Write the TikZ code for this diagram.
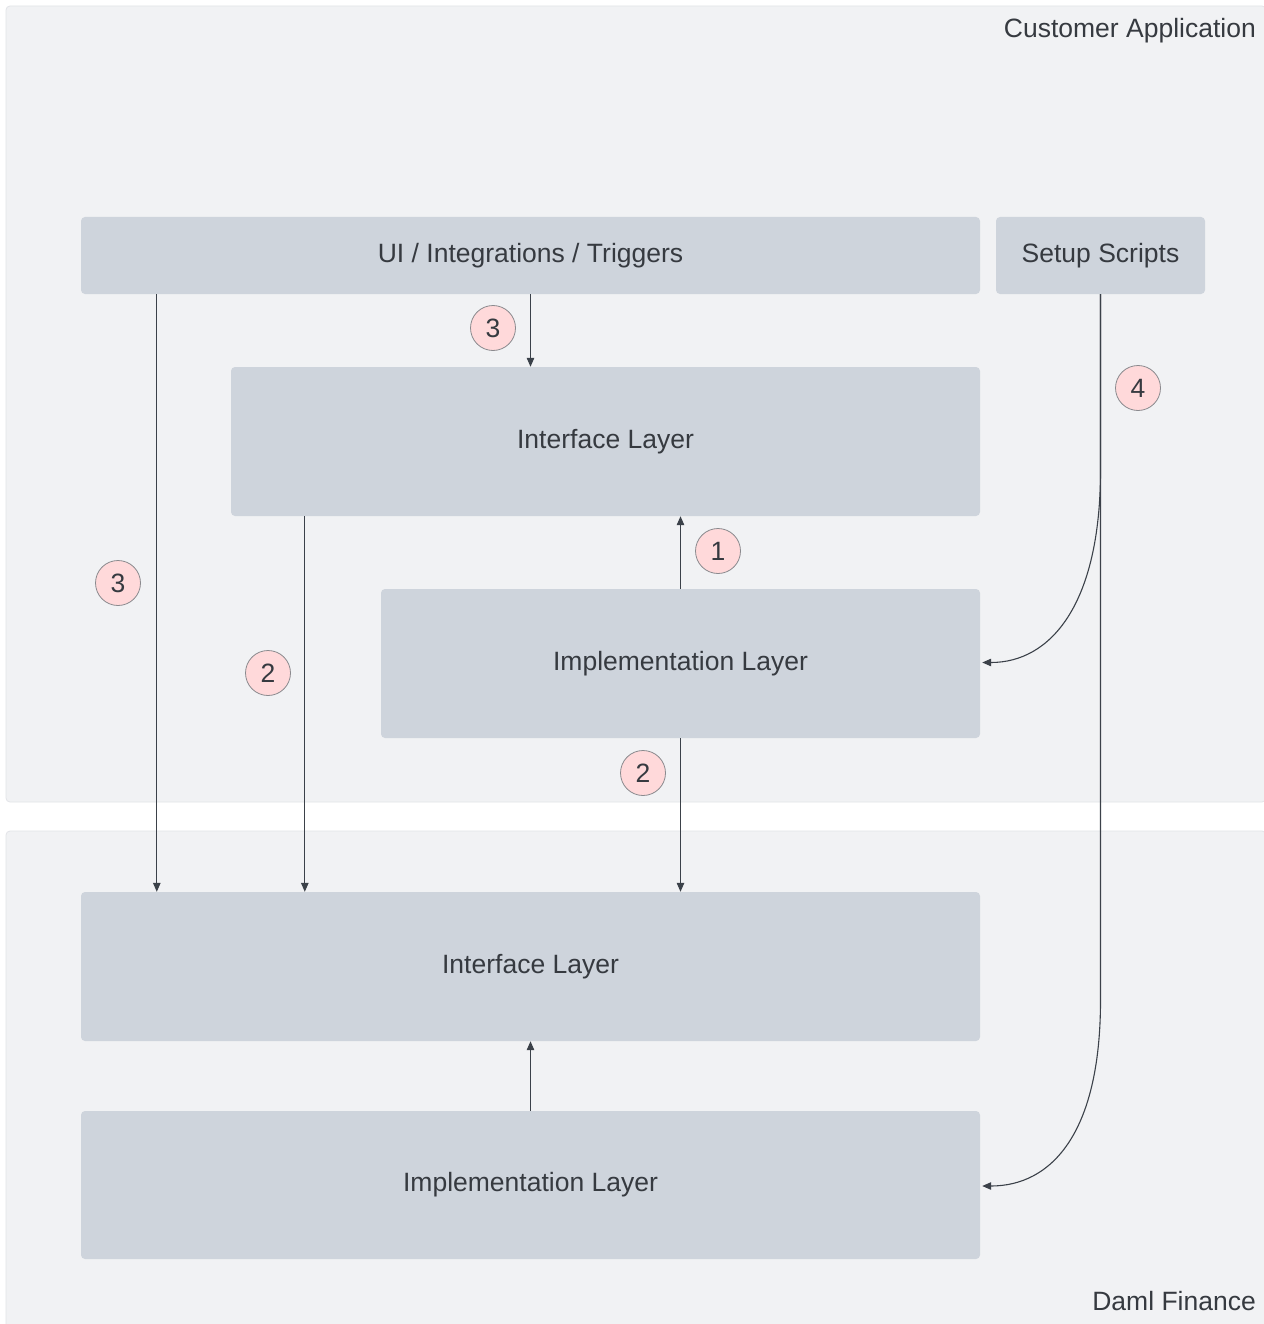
\documentclass[tikz,border=0pt]{standalone}
\usepackage{fontspec}
\setmainfont{Liberation Sans}
\usetikzlibrary{arrows.meta,calc}
\definecolor{contfill}{HTML}{F1F2F4}
\definecolor{contline}{HTML}{E2E4E8}
\definecolor{boxfill}{HTML}{CED4DC}
\definecolor{txt}{HTML}{363A40}
\definecolor{arrcol}{HTML}{3B4149}
\definecolor{badgefill}{HTML}{FFD9DA}
\definecolor{badgeline}{HTML}{8A8A8E}
\tikzset{
  container/.style={draw=contline, line width=0.8pt, fill=contfill, rounded corners=4pt},
  layerbox/.style={rectangle, fill=boxfill, rounded corners=4pt, inner sep=0pt, text=txt,
    font=\fontsize{26.5}{32}\selectfont},
  badge/.style={circle, draw=badgeline, line width=0.8pt, fill=badgefill, minimum size=45pt,
    inner sep=0pt, text=txt, font=\fontsize{26.5}{32}\selectfont},
  title/.style={text=txt, font=\fontsize{26.5}{32}\selectfont, inner sep=0pt},
  arr/.style={draw=arrcol, line width=1.1pt, -{Triangle[length=9pt,width=7.5pt]}},
}
\begin{document}
\begin{tikzpicture}[x=1pt,y=-1pt]
\useasboundingbox[fill=white] (0,0) rectangle (1263,1324);
% containers
\draw[container] (6,6) rectangle (1266,802);
\draw[container] (6,831) rectangle (1266,1330);
\node[title, anchor=base east] (tca) at (1256,37.5) {Customer Application};
\node[title, anchor=base east] (tdf) at (1256,1310.5) {Daml Finance};
% boxes
\node[layerbox, minimum width=899pt, minimum height=77pt] (ui) at (530.5,255.5) {UI / Integrations / Triggers};
\node[layerbox, minimum width=209pt, minimum height=77pt] (setup) at (1100.5,255.5) {Setup Scripts};
\node[layerbox, minimum width=749pt, minimum height=149pt] (if1) at (605.5,441.5) {Interface Layer};
\node[layerbox, minimum width=599pt, minimum height=149pt] (im1) at (680.5,663.5) {Implementation Layer};
\node[layerbox, minimum width=899pt, minimum height=149pt] (if2) at (530.5,966.5) {Interface Layer};
\node[layerbox, minimum width=899pt, minimum height=148pt] (im2) at (530.5,1185) {Implementation Layer};
% connectors
\draw[arr] (ui.south) -- (ui.south |- if1.north);
\coordinate (uiL) at ($(ui.south west)+(76,0)$);
\draw[arr] (uiL) -- (uiL |- if2.north);
\coordinate (if1L) at ($(if1.south west)+(74,0)$);
\draw[arr] (if1L) -- (if1L |- if2.north);
\draw[arr] (im1.north) -- (im1.north |- if1.south);
\draw[arr] (im1.south) -- (im1.south |- if2.north);
\draw[arr] (im2.north) -- (im2.north |- if2.south);
\coordinate (s1) at ($(setup.south)+(0,176)$);
\coordinate (s2) at ($(setup.south)+(0,706)$);
\draw[arr] (setup.south) -- (s1) .. controls ($(s1)+(0,135)$) and ($(im1.east)+(70,-1)$) .. ($(im1.east)+(2,-1)$);
\draw[arr] (setup.south) -- (s2) .. controls ($(s2)+(0,135)$) and ($(im2.east)+(70,1)$) .. ($(im2.east)+(2,1)$);
% badges
\node[badge] (b3a) at (493,328) {3};
\node[badge] (b4) at (1138,388) {4};
\node[badge] (b1) at (718,551) {1};
\node[badge] (b3b) at (118,583) {3};
\node[badge] (b2a) at (268,673) {2};
\node[badge] (b2b) at (643,773) {2};
\end{tikzpicture}
\end{document}
